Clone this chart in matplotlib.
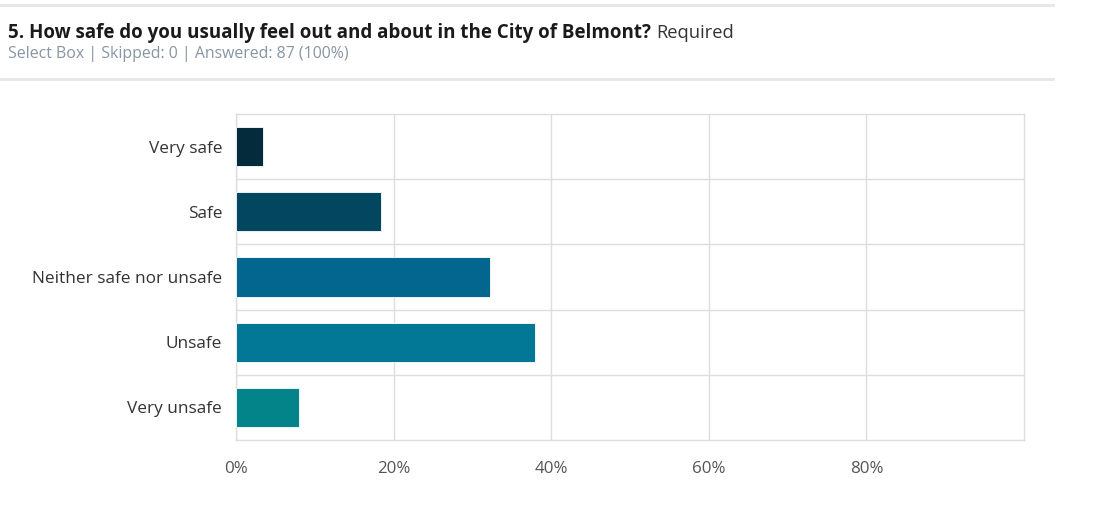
import matplotlib
matplotlib.use("Agg")
import matplotlib.pyplot as plt
from matplotlib.lines import Line2D
from matplotlib.ticker import FuncFormatter

plt.rcParams['font.family'] = ['Open Sans', 'DejaVu Sans']

categories = ["Very safe", "Safe", "Neither safe nor unsafe", "Unsafe", "Very unsafe"]
counts = [3, 16, 28, 33, 7]
total_answered = 87
percentages = [c / total_answered * 100 for c in counts]
bar_colors = ["#032b3b", "#03465f", "#03668f", "#027896", "#028489"]
x_ticks = [0, 20, 40, 60, 80]

W, H = 1094, 507
fig = plt.figure(figsize=(W / 100, H / 100), dpi=100)

# header rules
for y in (4.5, 78.5):
    fig.add_artist(Line2D([0, 1053 / W], [1 - y / H, 1 - y / H], color="#e6e6e6", lw=2))

title = "5. How safe do you usually feel out and about in the City of Belmont?"
t = fig.text(8 / W, 1 - 33 / H, title, fontsize=13.5, fontweight="bold",
             color="#1a1a1a", va="center", ha="left")
fig.canvas.draw()
bb = t.get_window_extent()
fig.text((bb.x1 + 5) / W, 1 - 33 / H, "Required", fontsize=13.2, color="#333333",
         va="center", ha="left")
fig.text(8 / W, 1 - 54 / H, "Select Box | Skipped: 0 | Answered: 87 (100%)",
         fontsize=11.4, color="#8796a3", va="center", ha="left")

ax = fig.add_axes([236 / W, 1 - 440 / H, (1024 - 236) / W, (440 - 114) / H])
ypos = list(range(len(categories)))
ax.barh(ypos, percentages, height=0.6, color=bar_colors, edgecolor="white", linewidth=0.6, zorder=3)
ax.set_xlim(0, 100)
ax.set_ylim(len(categories) - 0.5, -0.5)
ax.set_yticks(ypos)
ax.set_yticklabels(categories)
ax.set_xticks(x_ticks)
ax.xaxis.set_major_formatter(FuncFormatter(lambda v, p: f"{v:.0f}%"))
ax.set_yticks([i + 0.5 for i in range(len(categories) - 1)], minor=True)
ax.grid(axis="x", which="major", color="#dddddd", lw=1, zorder=0)
ax.grid(axis="y", which="minor", color="#dddddd", lw=1, zorder=0)
ax.tick_params(axis="y", which="both", length=0, pad=10, labelsize=12.4, labelcolor="#333333")
ax.tick_params(axis="x", length=0, pad=15, labelsize=12.2, labelcolor="#555555")
for s in ax.spines.values():
    s.set_color("#dddddd")
    s.set_linewidth(1)

fig.savefig("out.png", dpi=100, facecolor="white")
